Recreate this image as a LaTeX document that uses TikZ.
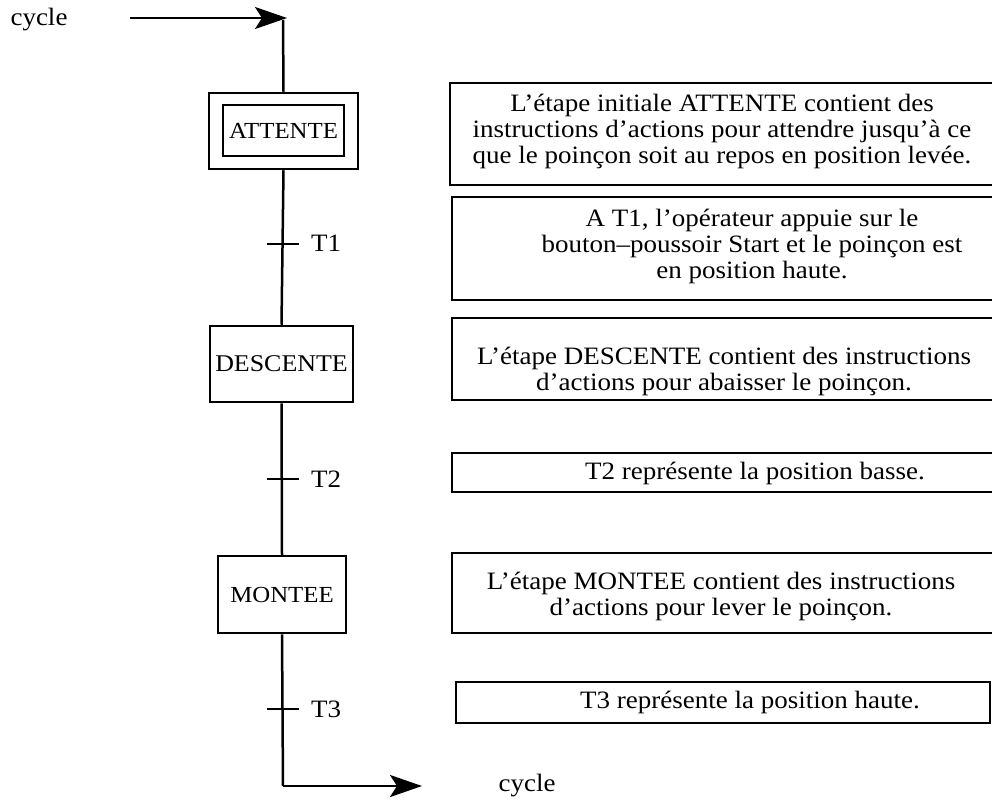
\documentclass[tikz,border=0pt]{standalone}
\usepackage{fontspec}
\setmainfont[FakeStretch=1.08]{Liberation Serif}
\usetikzlibrary{arrows.meta}
\begin{document}
\begin{tikzpicture}[x=1pt,y=-1pt,
  ln/.style={line width=2.5pt},
  stepbox/.style={draw,line width=2.5pt,inner sep=0pt,font=\fontsize{23}{26}\selectfont},
  desc/.style={align=center,inner sep=0pt,font=\fontsize{25}{26}\selectfont},
  lbl/.style={inner sep=0pt,font=\fontsize{25}{26}\selectfont},
  arr/.style={-{Stealth[length=32pt,width=22pt,inset=7pt]}}]
\useasboundingbox (0,0) rectangle (992,800);
% left column
\node[lbl] (cyc1) at (39,20) {cycle};
\coordinate (a0) at (130,18);
\coordinate (a1) at (287,18);
\coordinate (v0) at (283,20);
\node[stepbox,minimum width=149pt,minimum height=76pt] (attO) at (283.5,131) {};
\node[stepbox,minimum width=121pt,minimum height=51pt] (att) at (283.5,130.5) {ATTENTE};
\node[stepbox,minimum width=143pt,minimum height=76pt,font=\fontsize{24}{26}\selectfont] (des) at (281.5,364) {DESCENTE};
\node[stepbox,minimum width=128pt,minimum height=77pt] (mon) at (282,594.5) {MONTEE};
\coordinate (t1) at (283,244);
\coordinate (t2) at (283,479);
\coordinate (t3) at (283,709);
\coordinate (c2) at (283,786);
\coordinate (c3) at (422,786);
\node[lbl] (T1) at (326,243) {T1};
\node[lbl] (T2) at (326,479) {T2};
\node[lbl] (T3) at (326,709) {T3};
\node[lbl] (cyc2) at (527,786) {cycle};
\draw[ln,arr] (a0) -- (a1);
\draw[ln] (v0) -- (attO.north);
\draw[ln] (attO.south) -- (des.north);
\draw[ln] (des.south) -- (mon.north);
\draw[ln] (mon.south) -- (c2);
\draw[ln,arr] (c2) -- (c3);
\foreach \t in {t1,t2,t3} \draw[ln] ([xshift=-16pt]\t) -- ([xshift=16pt]\t);
% right column boxes
\draw[ln] (450,83) rectangle (996,185);
\draw[ln] (452,197) rectangle (996,300);
\draw[ln] (452,318) rectangle (996,400);
\draw[ln] (452,453) rectangle (996,492);
\draw[ln] (452,553) rectangle (996,633);
\draw[ln] (456,682) rectangle (990,723);
\node[desc] (d1) at (722,131) {L’étape initiale ATTENTE contient des\\instructions d’actions pour attendre jusqu’à ce\\que le poinçon soit au repos en position levée.};
\node[desc] (d2) at (752,246) {A T1, l’opérateur appuie sur le\\bouton–poussoir Start et le poinçon est\\en position haute.};
\node[desc] (d3) at (724,371) {L’étape DESCENTE contient des instructions\\d’actions pour abaisser le poinçon.};
\node[desc] (d4) at (755,473) {T2 représente la position basse.};
\node[desc] (d5) at (721,596) {L’étape MONTEE contient des instructions\\d’actions pour lever le poinçon.};
\node[desc] (d6) at (750,702) {T3 représente la position haute.};
\end{tikzpicture}
\end{document}
